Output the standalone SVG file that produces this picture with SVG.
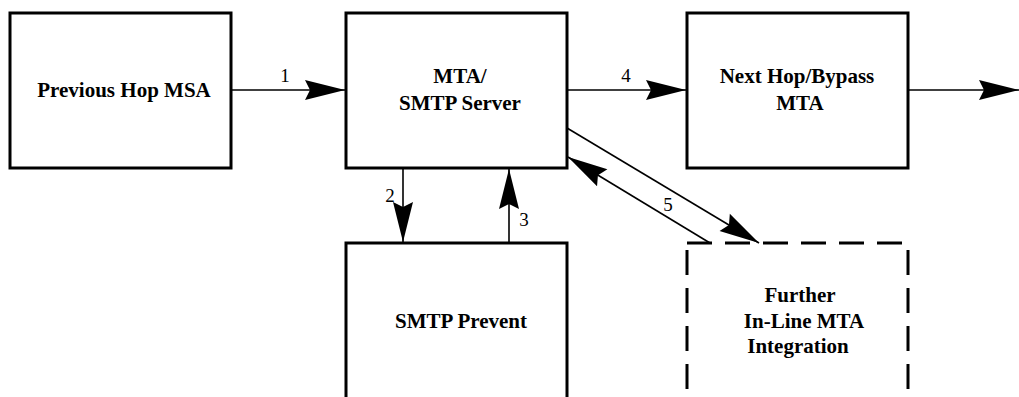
<svg xmlns="http://www.w3.org/2000/svg" width="1019" height="397" viewBox="0 0 1019 397">
<style>
.box{fill:#fff;stroke:#000;stroke-width:3}
.dash{fill:none;stroke:#000;stroke-width:3;stroke-dasharray:25 13}
.lbl{font-family:"Liberation Serif","Times New Roman",serif;font-weight:bold;font-size:21px;text-anchor:middle;fill:#000}
.num{font-family:"Liberation Serif","Times New Roman",serif;font-size:19px;text-anchor:middle;fill:#000}
.conn{fill:none;stroke:#000;stroke-width:1.6;marker-end:url(#ah)}
</style>
<defs>
<marker id="ah" markerUnits="userSpaceOnUse" viewBox="-41 -11 42 22" markerWidth="42" markerHeight="22" refX="0" refY="0" orient="auto">
<path d="M0,0 L-40,-10 L-35,0 L-40,10 Z" fill="#000"/>
</marker>
</defs>
<g id="connectors">
<line class="conn" x1="231" y1="90" x2="345" y2="90"/>
<line class="conn" x1="567" y1="90" x2="686" y2="90"/>
<line class="conn" x1="908" y1="90" x2="1019" y2="90"/>
<line class="conn" x1="403" y1="168" x2="403" y2="242"/>
<line class="conn" x1="509" y1="243" x2="509" y2="169"/>
<line class="conn" x1="567" y1="128" x2="759" y2="243"/>
<line class="conn" x1="710" y1="243" x2="568" y2="157"/>
<text class="num" x="285" y="82">1</text>
<text class="num" x="626" y="82">4</text>
<text class="num" x="390" y="202">2</text>
<text class="num" x="524" y="226">3</text>
<text class="num" x="668" y="211">5</text>
</g>
<g id="node-previous-hop">
<rect class="box" x="10" y="13" width="221" height="155"/>
<text class="lbl" x="124" y="97">Previous Hop MSA</text>
</g>
<g id="node-mta">
<rect class="box" x="346" y="13" width="221" height="155"/>
<text class="lbl" x="460" y="83">MTA/</text>
<text class="lbl" x="460" y="110">SMTP Server</text>
</g>
<g id="node-next-hop">
<rect class="box" x="687" y="13" width="221" height="155"/>
<text class="lbl" x="797" y="83">Next Hop/Bypass</text>
<text class="lbl" x="800" y="110">MTA</text>
</g>
<g id="node-smtp-prevent">
<rect class="box" x="346" y="243" width="221" height="190"/>
<text class="lbl" x="461" y="328">SMTP Prevent</text>
</g>
<g id="node-further">
<line class="dash" x1="687" y1="243" x2="908" y2="243"/>
<line class="dash" x1="687" y1="250" x2="687" y2="420"/>
<line class="dash" x1="908" y1="250" x2="908" y2="420"/>
<text class="lbl" x="800" y="302">Further</text>
<text class="lbl" x="804" y="328">In-Line MTA</text>
<text class="lbl" x="798" y="353">Integration</text>
</g>
</svg>
